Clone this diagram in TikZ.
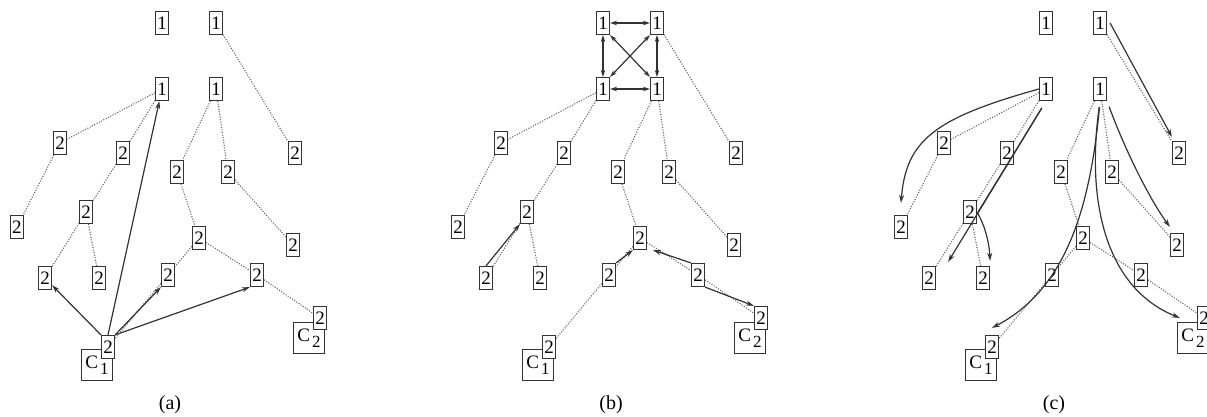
\documentclass[tikz,border=0pt]{standalone}
\usepackage{fontspec}
\setmainfont{Liberation Serif}
\usetikzlibrary{arrows.meta,calc}
\newcommand\csub[1]{C\kern2pt\raisebox{-6pt}{\fontsize{17}{17}\selectfont #1}}
\tikzset{
 dbox/.style={draw=black!80, line width=1.2pt, fill=white, minimum width=13pt, minimum height=23pt, inner sep=0.5pt, font=\fontsize{19}{19}\selectfont},
 cbox/.style={draw=black!80, line width=1.2pt, fill=white, minimum width=31pt, minimum height=31pt, inner sep=0pt, font=\fontsize{19}{19}\selectfont},
 dotl/.style={draw=black!65, line width=1.1pt, dash pattern=on 1pt off 1.6pt},
 arr/.style={draw=black!80, line width=1.2pt, -{Stealth[length=8pt,width=5pt]}},
 darr/.style={draw=black!80, line width=1.2pt, {Stealth[length=7pt,width=4.5pt]}-{Stealth[length=7pt,width=4.5pt]}},
 lab/.style={font=\fontsize{20}{20}\selectfont}
}
\newcommand\drawtree[2]{%
 \node[dbox] (#1tL) at (162,23) {1};
 \node[dbox] (#1tR) at (216,23) {1};
 \node[dbox] (#1mL) at (162,89) {1};
 \node[dbox] (#1mR) at (216,89) {1};
 \node[dbox] (#1p1) at (60,143) {2};
 \node[dbox] (#1p2) at (123,153) {2};
 \node[dbox] (#1p3) at (177,172) {2};
 \node[dbox] (#1p4) at (228,172) {2};
 \node[dbox] (#1p5) at (295,153) {2};
 \node[dbox] (#1q1) at (17,227) {2};
 \node[dbox] (#1q2) at (86,212) {2};
 \node[dbox] (#1q3) at (45,278) {2};
 \node[dbox] (#1q4) at (99,278) {2};
 \node[dbox] (#1q5) at (199,238) {2};
 \node[dbox] (#1q6) at (168,275) {2};
 \node[dbox] (#1q7) at (257,275) {2};
 \node[dbox] (#1q8) at (293,245) {2};
 \node[cbox] (#1C1) at (97,365) {\csub{1}};
 \node[dbox] (#1c1) at (108,347) {2};
 \node[cbox] (#1C2) at (309,338) {\csub{2}};
 \node[dbox] (#1c2) at (320,318) {2};
 \node[lab] (#1lab) at (170,405) {(#2)};
 \draw[dotl] (#1tR) -- (#1p5);
 \draw[dotl] (#1mL) -- (#1p1);
 \draw[dotl] (#1mL) -- (#1p2);
 \draw[dotl] (#1p1) -- (#1q1);
 \draw[dotl] (#1p2) -- (#1q2);
 \draw[dotl] (#1q2) -- (#1q3);
 \draw[dotl] (#1q2) -- (#1q4);
 \draw[dotl] (#1mR) -- (#1p3);
 \draw[dotl] (#1mR) -- (#1p4);
 \draw[dotl] (#1p3) -- (#1q5);
 \draw[dotl] (#1p4) -- (#1q8);
 \draw[dotl] (#1q5) -- (#1q6);
 \draw[dotl] (#1q5) -- (#1q7);
 \draw[dotl] (#1q7) -- (#1c2);
 \draw[dotl] (#1q6) -- (#1c1);
}
\begin{document}
\begin{tikzpicture}[x=1pt,y=-1pt]
\useasboundingbox (0,0) rectangle (1207,417);
\clip (0,0) rectangle (1207,417);
\begin{scope}\drawtree{a}{a}\end{scope}
\begin{scope}[xshift=441pt]\drawtree{b}{b}\end{scope}
\begin{scope}[xshift=884pt]\drawtree{c}{c}\end{scope}
% panel (a)
\draw[arr] (ac1.north west) -- (aq3);
\draw[arr] (ac1.north) -- (amL);
\draw[arr] (ac1.north east) -- (aq6.south west);
\draw[arr] (ac1.north east) -- (aq7.south west);
% panel (b)
\draw[darr] (btL) -- (btR);
\draw[darr] (bmL) -- (bmR);
\draw[darr] (btL) -- (bmL);
\draw[darr] (btR) -- (bmR);
\draw[darr] (btL.south east) -- (bmR.north west);
\draw[darr] (btR.south west) -- (bmL.north east);
\draw[arr] (bq3.north) -- (bq2.south west);
\draw[arr] (bq6.north east) -- (bq5.south west);
\draw[arr] (bq7.north west) -- ($(bq5.south east)+(6,0)$);
\draw[arr] (bq7.south east) -- (bc2.north west);
% panel (c)
\draw[arr] ([xshift=3pt]ctR.east) -- ([yshift=4pt]cp5.north west);
\draw[arr] (cmL.west) .. controls (935,118) and (906,140) .. ([yshift=12pt]cq1.north);
\draw[arr, shorten <=9pt] (cmL.south) -- ($(cq3.north east)+(12,-4)$);
\draw[arr] ($(cmL.south)!0.06!(977.5,213)$) -- (977.5,213) .. controls (984,224) and (989,240) .. ($(cq4.north east)+(0,-5)$);
\draw[arr, shorten <=6pt] (cmR.south) .. controls (1090,210) and (1065,290) .. ($(cc1.north)+(0,-7)$);
\draw[arr, shorten <=6pt] (cmR.south) .. controls (1085,210) and (1110,290) .. ($(cC2.north west)+(3,-4)$);
\draw[arr, shorten <=6pt] (cmR.south east) .. controls (1125,150) and (1150,200) .. ($(cq8.north west)+(0,-6)$);
\end{tikzpicture}
\end{document}
